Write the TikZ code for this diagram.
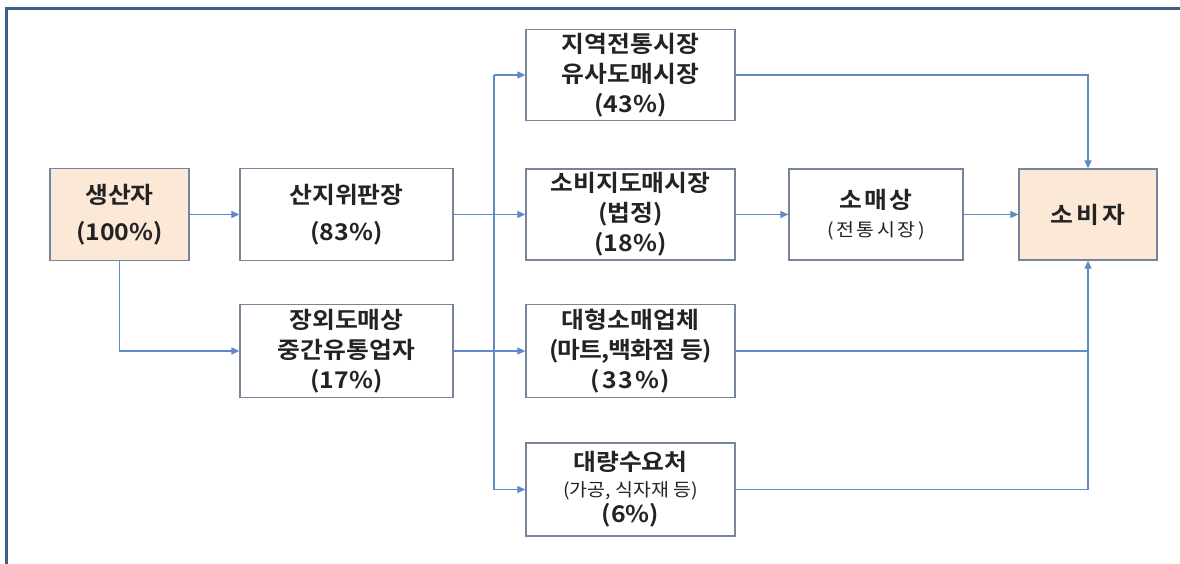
\documentclass[tikz,border=0pt]{standalone}
\usepackage{fontspec}
\usetikzlibrary{arrows.meta}
\newfontfamily\kr{Noto Sans CJK KR}[BoldFont={Noto Sans CJK KR Bold}, FakeStretch=1.08]
\definecolor{frameblue}{RGB}{61,95,138}
\definecolor{boxline}{RGB}{118,132,156}
\definecolor{arrowblue}{RGB}{96,137,197}
\definecolor{peach}{RGB}{252,232,214}
\definecolor{txt}{RGB}{35,35,35}
\tikzset{
  box/.style={draw=boxline, line width=1.3pt, fill=white, align=center, inner sep=0pt, text=txt,
    font=\kr\bfseries\fontsize{23}{30}\selectfont},
  pbox/.style={box, fill=peach},
  link/.style={draw=arrowblue, line width=1.2pt},
  arr/.style={link, -{Triangle[length=8pt,width=7pt]}},
  frameline/.style={draw=frameblue, line width=3.5pt}
}
\newcommand{\sm}{\fontsize{18}{22}\selectfont\mdseries}
\begin{document}
\begin{tikzpicture}[x=1pt,y=-1pt]
\useasboundingbox[fill=white] (0,0) rectangle (1180,564);
\draw[frameline] (6.5,564) -- (6.5,8.5) -- (1180,8.5);

\node[pbox, minimum width=139pt, minimum height=92pt] (prod) at (119.5,214.5)
  {생산자\\[7pt](100\%)};
\node[box, minimum width=213pt, minimum height=92pt] (sanji) at (346.5,214.5)
  {산지위판장\\[7pt](83\%)};
\node[box, minimum width=213pt, minimum height=93pt] (jangoe) at (346.5,351)
  {장외도매상\\중간유통업자\\(17\%)};
\node[box, minimum width=209pt, minimum height=91pt] (jiyeok) at (630.5,75)
  {지역전통시장\\유사도매시장\\(43\%)};
\node[box, minimum width=209pt, minimum height=91pt] (sobiji) at (630.5,214.5)
  {소비지도매시장\\(법정)\\(18\%)};
\node[box, minimum width=209pt, minimum height=93pt] (daehyeong) at (630.5,351)
  {대형소매업체\\{\addfontfeature{LetterSpace=-4}(마트,백화점 등)}\\{\addfontfeature{LetterSpace=8}(33\%)}};
\node[box, minimum width=209pt, minimum height=93pt] (daeryang) at (630.5,489.5)
  {대량수요처\\[-4pt]{\sm (가공, 식자재 등)}\\[-4pt](6\%)};
\node[box, minimum width=174pt, minimum height=91pt] (somae) at (876,214.5)
  {{\addfontfeature{LetterSpace=10}소매상}\\[-2pt]{\sm\addfontfeature{LetterSpace=14}(전통시장)}};
\node[pbox, minimum width=138pt, minimum height=91pt] (sobija) at (1088,214.5)
  {{\addfontfeature{LetterSpace=12}소비자}};

\coordinate (t1) at (494,75);
\coordinate (t4) at (494,489.5);

\draw[arr] (prod) -- (sanji);
\draw[arr] (prod.south) |- (jangoe.west);
\draw[link] (t1) -- (t4);
\draw[arr] (t1) -- (jiyeok.west);
\draw[arr] (sanji) -- (sobiji);
\draw[arr] (jangoe) -- (daehyeong);
\draw[arr] (t4) -- (daeryang.west);
\draw[arr] (sobiji) -- (somae);
\draw[arr] (somae) -- (sobija);
\draw[arr] (jiyeok.east) -| (sobija.north);
\draw[arr] (daeryang.east) -| (sobija.south);
\draw[link] (daehyeong.east) -- (daehyeong.east -| sobija.south);
\end{tikzpicture}
\end{document}
